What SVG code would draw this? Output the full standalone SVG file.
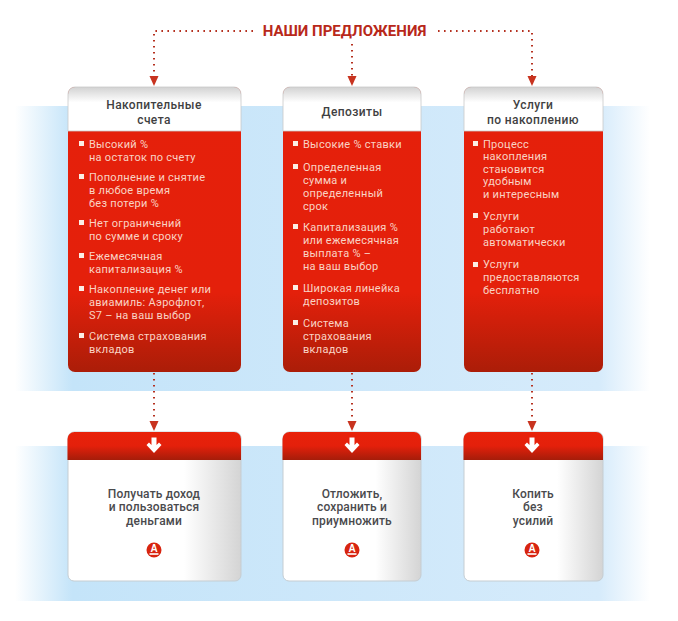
<svg xmlns="http://www.w3.org/2000/svg" width="678" height="621" viewBox="0 0 678 621">
<style>
.b{font-family:Roboto,"Liberation Sans",sans-serif;font-size:11px;fill:#f9d3c4;letter-spacing:.27px}
.h{font-family:Roboto,"Liberation Sans",sans-serif;font-size:12px;font-weight:500;fill:#3f3f42;text-anchor:middle;letter-spacing:.4px}
.r{font-family:Roboto,"Liberation Sans",sans-serif;font-size:12px;font-weight:500;fill:#4a4a4d;text-anchor:middle;letter-spacing:.15px}
.t{font-family:Roboto,"Liberation Sans",sans-serif;font-size:15px;font-weight:700;fill:#b8281a;text-anchor:middle}
.d{fill:none;stroke:#b5301f;stroke-width:2;stroke-dasharray:1.6 4.4}
.s{fill:#fbeee6}
.l{font-family:"Liberation Sans",sans-serif;font-size:10px;font-weight:700;fill:#fff;text-anchor:middle}
</style>
<defs>
<linearGradient id="band"><stop offset="0" stop-color="#fff"/><stop offset=".09" stop-color="#c4e4f9"/><stop offset=".92" stop-color="#d6ebfb"/><stop offset="1" stop-color="#fff"/></linearGradient>
<linearGradient id="red" x1="0" y1="0" x2="0" y2="1"><stop offset="0" stop-color="#e5200b"/><stop offset=".72" stop-color="#e4200b"/><stop offset="1" stop-color="#ab1d08"/></linearGradient>
<linearGradient id="hdr" x1="0" y1="0" x2="0" y2="1"><stop offset="0" stop-color="#d2d2d2"/><stop offset=".35" stop-color="#fff"/><stop offset="1" stop-color="#fff"/></linearGradient>
<linearGradient id="top" x1="0" y1="0" x2="0" y2="1"><stop offset="0" stop-color="#e8220a"/><stop offset=".5" stop-color="#e4200b"/><stop offset="1" stop-color="#a51d0a"/></linearGradient>
<linearGradient id="low"><stop offset="0" stop-color="#fff"/><stop offset=".67" stop-color="#fff"/><stop offset="1" stop-color="#d4d4d4"/></linearGradient>
<marker id="arr" markerWidth="10" markerHeight="11" refX="5" refY="10.500" orient="0" markerUnits="userSpaceOnUse"><path d="M.25 0H9.750L5 10.500Z" fill="#c8331f"/></marker>
<g id="logo"><circle r="7.500" fill="#d8240f"/><text class="l" y="2">А</text><rect x="-4.500" y="3.200" width="9" height="1.600" fill="#fff"/></g>
<path id="down" d="M-2.500 -8.500H2.500V-1L5 -3.500L7.500 -1L0 7L-7.500 -1L-5 -3.500L-2.500 -1Z" fill="#fff"/>
</defs>
<rect x="15" y="106" width="635" height="285" fill="url(#band)"/>
<rect x="15" y="446" width="635" height="155" fill="url(#band)"/>
<g id="connectors">
<path class="d" d="M253 31H154V86" marker-end="url(#arr)"/>
<path class="d" d="M352 44V86" marker-end="url(#arr)"/>
<path class="d" d="M438 31H532V86" marker-end="url(#arr)"/>
<path class="d" d="M154 373V431" marker-end="url(#arr)"/>
<path class="d" d="M352 373V431" marker-end="url(#arr)"/>
<path class="d" d="M532 373V431" marker-end="url(#arr)"/>
</g>
<text id="title" class="t" x="344.500" y="36">НАШИ ПРЕДЛОЖЕНИЯ</text>
<g id="card1">
<rect x="68" y="87" width="173" height="285" rx="7" fill="url(#red)"/>
<path d="M68 131V94a7 7 0 0 1 7-7H234a7 7 0 0 1 7 7V131Z" fill="url(#hdr)" stroke="#c9c9c9" stroke-width=".8"/>
<text class="h" x="154" y="109">Накопительные</text><text class="h" x="154" y="124">счета</text>
<rect class="s" x="79" y="141" width="5" height="5"/><text class="b" x="89" y="148">Высокий %</text><text class="b" x="89" y="161">на остаток по счету</text>
<rect class="s" x="79" y="174" width="5" height="5"/><text class="b" x="89" y="181">Пополнение и снятие</text><text class="b" x="89" y="194">в любое время</text><text class="b" x="89" y="207">без потери %</text>
<rect class="s" x="79" y="220" width="5" height="5"/><text class="b" x="89" y="227">Нет ограничений</text><text class="b" x="89" y="240">по сумме и сроку</text>
<rect class="s" x="79" y="253" width="5" height="5"/><text class="b" x="89" y="260">Ежемесячная</text><text class="b" x="89" y="273">капитализация %</text>
<rect class="s" x="79" y="286" width="5" height="5"/><text class="b" x="89" y="293">Накопление денег или</text><text class="b" x="89" y="306">авиамиль: Аэрофлот,</text><text class="b" x="89" y="319">S7 – на ваш выбор</text>
<rect class="s" x="79" y="333" width="5" height="5"/><text class="b" x="89" y="340">Система страхования</text><text class="b" x="89" y="353">вкладов</text>
</g>
<g id="card2">
<rect x="283" y="87" width="138" height="285" rx="7" fill="url(#red)"/>
<path d="M283 131V94a7 7 0 0 1 7-7H414a7 7 0 0 1 7 7V131Z" fill="url(#hdr)" stroke="#c9c9c9" stroke-width=".8"/>
<text class="h" x="352" y="116">Депозиты</text>
<rect class="s" x="293" y="141" width="5" height="5"/><text class="b" x="303" y="148">Высокие % ставки</text>
<rect class="s" x="293" y="164" width="5" height="5"/><text class="b" x="303" y="171">Определенная</text><text class="b" x="303" y="184">сумма и</text><text class="b" x="303" y="197">определенный</text><text class="b" x="303" y="210">срок</text>
<rect class="s" x="293" y="224" width="5" height="5"/><text class="b" x="303" y="231">Капитализация %</text><text class="b" x="303" y="244">или ежемесячная</text><text class="b" x="303" y="257">выплата % –</text><text class="b" x="303" y="270">на ваш выбор</text>
<rect class="s" x="293" y="285" width="5" height="5"/><text class="b" x="303" y="292">Широкая линейка</text><text class="b" x="303" y="305">депозитов</text>
<rect class="s" x="293" y="320" width="5" height="5"/><text class="b" x="303" y="327">Система</text><text class="b" x="303" y="340">страхования</text><text class="b" x="303" y="353">вкладов</text>
</g>
<g id="card3">
<rect x="464" y="87" width="139" height="285" rx="7" fill="url(#red)"/>
<path d="M464 131V94a7 7 0 0 1 7-7H596a7 7 0 0 1 7 7V131Z" fill="url(#hdr)" stroke="#c9c9c9" stroke-width=".8"/>
<text class="h" x="533" y="109">Услуги</text><text class="h" x="533" y="124">по накоплению</text>
<rect class="s" x="473" y="141" width="5" height="5"/><text class="b" x="483" y="148">Процесс</text><text class="b" x="483" y="160">накопления</text><text class="b" x="483" y="173">становится</text><text class="b" x="483" y="185">удобным</text><text class="b" x="483" y="198">и интересным</text>
<rect class="s" x="473" y="213" width="5" height="5"/><text class="b" x="483" y="220">Услуги</text><text class="b" x="483" y="233">работают</text><text class="b" x="483" y="246">автоматически</text>
<rect class="s" x="473" y="262" width="5" height="5"/><text class="b" x="483" y="268">Услуги</text><text class="b" x="483" y="281">предоставляются</text><text class="b" x="483" y="294">бесплатно</text>
</g>
<g id="result1">
<rect x="68" y="432" width="173" height="149" rx="6" fill="url(#low)" stroke="#c5cdd2"/>
<path d="M67.500 460V439a7 7 0 0 1 7-7H234a7 7 0 0 1 7 7V460Z" fill="url(#top)"/>
<use href="#down" x="154" y="446"/>
<text class="r" x="154" y="498">Получать доход</text><text class="r" x="154" y="511">и пользоваться</text><text class="r" x="154" y="525">деньгами</text>
<use href="#logo" x="154" y="550"/>
</g>
<g id="result2">
<rect x="283" y="432" width="138" height="149" rx="6" fill="url(#low)" stroke="#c5cdd2"/>
<path d="M282.500 460V439a7 7 0 0 1 7-7H414a7 7 0 0 1 7 7V460Z" fill="url(#top)"/>
<use href="#down" x="352" y="446"/>
<text class="r" x="352" y="498">Отложить,</text><text class="r" x="352" y="511">сохранить и</text><text class="r" x="352" y="525">приумножить</text>
<use href="#logo" x="352" y="550"/>
</g>
<g id="result3">
<rect x="464" y="432" width="139" height="149" rx="6" fill="url(#low)" stroke="#c5cdd2"/>
<path d="M463.500 460V439a7 7 0 0 1 7-7H596a7 7 0 0 1 7 7V460Z" fill="url(#top)"/>
<use href="#down" x="532" y="446"/>
<text class="r" x="533" y="498">Копить</text><text class="r" x="533" y="511">без</text><text class="r" x="533" y="525">усилий</text>
<use href="#logo" x="532" y="550"/>
</g>
</svg>
